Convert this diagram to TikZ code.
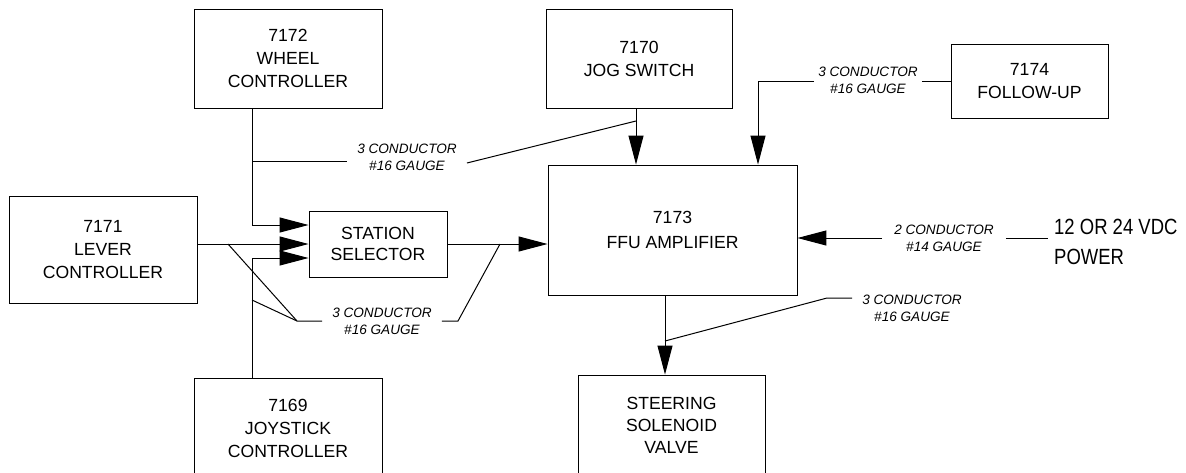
\documentclass[tikz,border=0pt]{standalone}
\usepackage{fontspec}
\setmainfont{Liberation Sans}
\newfontfamily\condfont[FakeStretch=0.84]{Liberation Sans}
\usetikzlibrary{arrows.meta}
\begin{document}
\begin{tikzpicture}[x=1pt,y=-1pt,
  box/.style={draw, line width=0.9pt, align=center, inner sep=0pt, font=\fontsize{17.6}{23}\selectfont},
  cable/.style={align=center, inner xsep=10pt, inner ysep=2pt, font=\itshape\fontsize{13.6}{17}\selectfont},
  wire/.style={line width=1pt},
  arr/.style={wire, -{Triangle[length=29pt,width=15pt]}}]
\clip (0,0) rectangle (1186,472);
% boxes
\node[box, minimum width=188pt, minimum height=99pt] (wheel) at (288,58.5) {7172\\WHEEL\\CONTROLLER};
\node[box, minimum width=186pt, minimum height=99pt] (jog) at (639,58.5) {7170\\JOG SWITCH};
\node[box, minimum width=157pt, minimum height=74pt] (follow) at (1029.5,81) {7174\\FOLLOW-UP};
\node[box, minimum width=188pt, minimum height=107pt] (lever) at (103,249.5) {7171\\LEVER\\CONTROLLER};
\node[box, minimum width=138pt, minimum height=66pt, font=\fontsize{17.6}{21}\selectfont] (station) at (378,244) {STATION\\SELECTOR};
\node[box, minimum width=249pt, minimum height=130pt, font=\fontsize{17.6}{25}\selectfont] (ffu) at (672.5,230) {7173\\FFU AMPLIFIER};
\node[box, minimum width=188pt, minimum height=100pt] (joy) at (288,428) {7169\\JOYSTICK\\CONTROLLER};
\node[box, minimum width=187pt, minimum height=100pt, font=\fontsize{17.6}{22}\selectfont] (steer) at (671.5,425) {STEERING\\SOLENOID\\VALVE};
% cable labels
\node[cable] (lw) at (407,157) {3 CONDUCTOR\\\#16 GAUGE};
\node[cable, inner xsep=4pt] (lf) at (868,80) {3 CONDUCTOR\\\#16 GAUGE};
\node[cable, inner xsep=12pt] (lp) at (944,238) {2 CONDUCTOR\\\#14 GAUGE};
\node[cable] (lb) at (912,308) {3 CONDUCTOR\\\#16 GAUGE};
\node[cable] (ll) at (382,321) {3 CONDUCTOR\\\#16 GAUGE};
\node[anchor=west, inner xsep=6pt, inner ysep=0pt, align=left, font=\condfont\fontsize{22}{30}\selectfont] (pw) at (1048,242) {12 OR 24 VDC\\POWER};
% helper coordinates
\coordinate (xl) at (252,0);
\coordinate (jx) at (636,0);
\coordinate (fx) at (758,0);
\coordinate (sx) at (665,0);
\coordinate (wj) at (252,161);
\coordinate (jj) at (636,121);
\coordinate (lj) at (228,244);
\coordinate (jb) at (252,300);
\coordinate (fan) at (297,321);
\coordinate (r1) at (458,321);
\coordinate (r2) at (500,244);
\coordinate (b1) at (827,298);
\coordinate (bj) at (665,341);
% connectors
\draw[arr] (wheel.south -| xl) |- ([yshift=19pt]station.west);
\draw[arr] (lever.east |- station.west) -- (station.west);
\draw[arr] (joy.north -| xl) |- ([yshift=-14pt]station.west);
\draw[arr] (station.east) -- (station.east -| ffu.west);
\draw[arr] (jog.south -| jx) -- (ffu.north -| jx);
\draw[arr] (lf.west |- follow.west) -| (ffu.north -| fx);
\draw[wire] (lf.east |- follow.west) -- (follow.west);
\draw[arr] (lp.west) -- (lp.west -| ffu.east);
\draw[wire] (lp.east) -- (pw.west |- lp.east);
\draw[arr] (ffu.south -| sx) -- (steer.north -| sx);
% cable leaders
\draw[wire] (wj) -- ([yshift=-4pt]lw.west);
\draw[wire] ([yshift=-6pt]lw.east) -- (jj);
\draw[wire] (lj) -- (fan) -- (ll.west);
\draw[wire] (jb) -- (fan);
\draw[wire] (ll.east) -- (r1) -- (r2);
\draw[wire] ([yshift=10pt]lb.west) -- (b1) -- (bj);
\end{tikzpicture}
\end{document}
